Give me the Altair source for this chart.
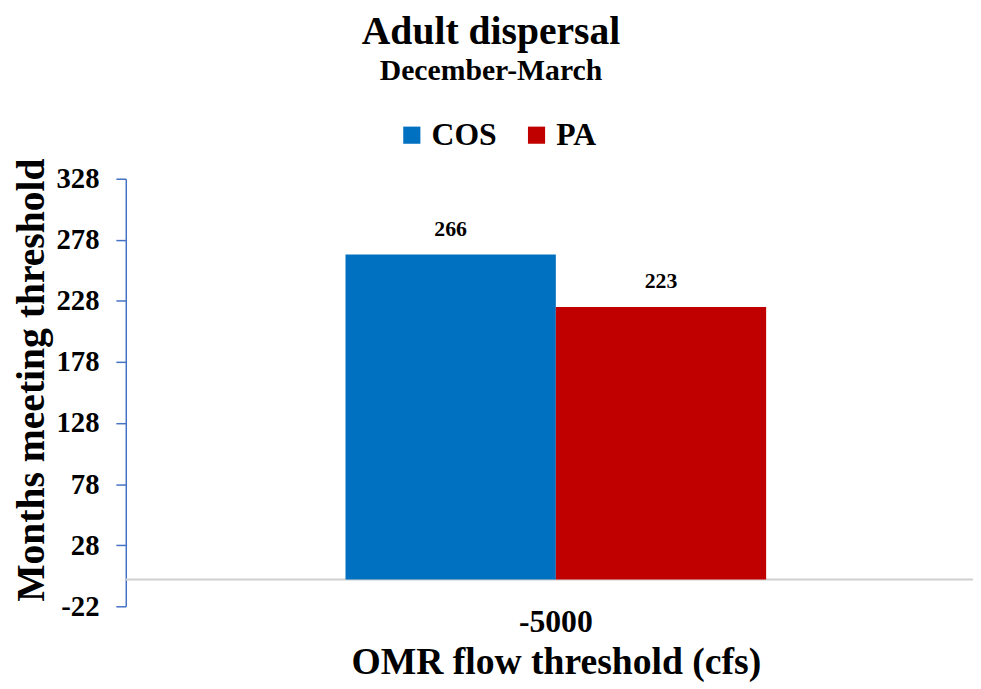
import altair as alt
import pandas as pd

categories = ["-5000", "-5000"]
series = ["COS", "PA"]
values = [266, 223]
colors = ["#0070C0", "#C00000"]
y_ticks = [-22, 28, 78, 128, 178, 228, 278, 328]

df = pd.DataFrame({"threshold": categories, "series": series, "value": values})

FONT = "Liberation Serif"

base = alt.Chart(df)

bars = base.mark_bar().encode(
    x=alt.X("threshold:N", title="OMR flow threshold (cfs)",
            scale=alt.Scale(range=[222, 647], paddingInner=0, paddingOuter=0),
            axis=alt.Axis(labelAngle=0, domain=False, ticks=False, labelFontSize=32,
                          labelPadding=0, titleFontSize=38, titlePadding=7)),
    xOffset=alt.XOffset("series:N", scale=alt.Scale(paddingInner=0, paddingOuter=0)),
    y=alt.Y("value:Q", title="Months meeting threshold",
            scale=alt.Scale(domain=[-22, 328], nice=False, zero=False),
            axis=alt.Axis(values=y_ticks, grid=False, domainColor="#4472C4", tickColor="#4472C4",
                          domainWidth=1.5, tickWidth=1.5, tickSize=10, labelFontSize=29,
                          labelPadding=17, titleFontSize=40, titlePadding=5, titleY=203,
                          labelExpr="'' + datum.value")),
    color=alt.Color("series:N", scale=alt.Scale(domain=series, range=colors),
                    legend=alt.Legend(title=None, orient="none", direction="horizontal",
                                      legendX=273, legendY=-60, symbolType="square",
                                      symbolSize=300, symbolStrokeWidth=0, labelFontSize=32,
                                      labelFont=FONT, labelFontWeight="bold", labelColor="black",
                                      columnPadding=24, labelOffset=4, padding=0)),
)

labels = base.mark_text(baseline="bottom", dy=-14, fontSize=22, font=FONT,
                        fontWeight="bold", color="black").encode(
    x=alt.X("threshold:N"),
    xOffset=alt.XOffset("series:N"),
    y=alt.Y("value:Q"),
    text=alt.Text("value:Q"),
)

zero = alt.Chart(pd.DataFrame({"z": [0]})).mark_rule(color="#D0D0D0", strokeWidth=2).encode(
    y=alt.Y("z:Q")
)

chart = alt.layer(zero, bars, labels).properties(
    width=856,
    height=432,
    title=alt.TitleParams(text="Adult dispersal", subtitle="December-March", anchor="middle",
                          dx=-59, offset=34, subtitlePadding=4),
    autosize=alt.AutoSizeParams(type="none"),
    padding={"left": 119, "top": 169, "right": 0, "bottom": 76},
).configure_axis(
    labelFont=FONT, titleFont=FONT, labelFontWeight="bold", titleFontWeight="bold",
    labelColor="black", titleColor="black"
).configure_title(
    font=FONT, subtitleFont=FONT, fontSize=40, subtitleFontSize=30,
    fontWeight="bold", subtitleFontWeight="bold", color="black", subtitleColor="black"
).configure_view(stroke=None)

chart.save("out.html", embed_options={"renderer": "svg", "actions": False})
